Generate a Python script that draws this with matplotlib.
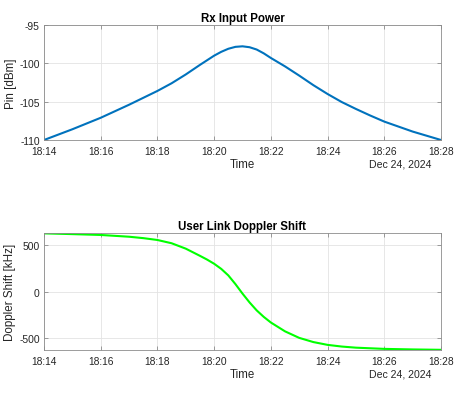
import matplotlib
matplotlib.use("Agg")
import matplotlib.pyplot as plt
import matplotlib.dates as mdates
import pandas as pd

plt.rcParams['font.family'] = ['Liberation Sans', 'DejaVu Sans']
plt.rcParams['axes.unicode_minus'] = False

# readings (time of day on Dec 24, 2024)
pin_times = ["18:14:00", "18:15:00", "18:16:00", "18:17:00", "18:18:00", "18:18:30",
             "18:19:00", "18:19:30", "18:20:00", "18:20:15", "18:20:30", "18:20:45",
             "18:21:00", "18:21:15", "18:21:30", "18:21:45", "18:22:00", "18:22:30",
             "18:23:00", "18:23:30", "18:24:00", "18:24:30", "18:25:00", "18:25:30",
             "18:26:00", "18:27:00", "18:28:00"]
pin_dbm = [-110.0, -108.6, -107.1, -105.4, -103.6, -102.6,
           -101.45, -100.2, -99.0, -98.5, -98.1, -97.85,
           -97.78, -97.9, -98.2, -98.7, -99.3, -100.4,
           -101.6, -102.85, -104.0, -105.05, -105.95, -106.8,
           -107.6, -108.9, -110.0]

dop_times = ["18:14:00", "18:15:00", "18:16:00", "18:17:00", "18:17:30", "18:18:00",
             "18:18:30", "18:19:00", "18:19:30", "18:19:45", "18:20:00", "18:20:15",
             "18:20:30", "18:20:45", "18:21:00", "18:21:15", "18:21:30", "18:21:45",
             "18:22:00", "18:22:30", "18:23:00", "18:23:30", "18:24:00", "18:24:30",
             "18:25:00", "18:26:00", "18:27:00", "18:28:00"]
dop_khz = [626, 618, 609, 590, 575, 555,
           520, 462, 385, 345, 300, 245,
           175, 82, -20, -115, -200, -270,
           -330, -425, -495, -540, -570, -588,
           -600, -613, -619, -623]

date = "2024-12-24 "
t_pin = pd.to_datetime([date + s for s in pin_times])
t_dop = pd.to_datetime([date + s for s in dop_times])
t0 = pd.Timestamp(date + "18:14:00")
t1 = pd.Timestamp(date + "18:28:00")
ticks = pd.date_range(t0, t1, freq="2min")

fig = plt.figure(figsize=(4.58, 4.02), dpi=100)
ax1 = fig.add_axes([44/458, 1-141/402, 397/458, 115/402])
ax2 = fig.add_axes([44/458, 1-351/402, 397/458, 117/402])

def style(ax, title, ylabel):
    ax.set_xlim(t0, t1)
    ax.set_xticks(ticks)
    ax.xaxis.set_major_formatter(mdates.DateFormatter('%H:%M'))
    ax.grid(True, color='#e3e3e3', lw=0.6)
    ax.set_axisbelow(True)
    for sp in ax.spines.values():
        sp.set_color('#8c8c8c')
        sp.set_linewidth(0.6)
    ax.tick_params(direction='in', length=3, width=0.6, color='#8c8c8c',
                   labelsize=7.4, labelcolor='#262626', top=True, right=True)
    ax.tick_params(axis='x', pad=4)
    ax.tick_params(axis='y', pad=3)
    ax.set_title(title, fontsize=8.3, fontweight='bold', pad=3)
    ax.set_ylabel(ylabel, fontsize=8.4, color='#262626', labelpad=2)
    ax.set_xlabel('Time', fontsize=8.3, color='#262626', labelpad=2)
    ax.text(0.977, -0.205, 'Dec 24, 2024', transform=ax.transAxes, ha='right', va='center',
            fontsize=7.6, color='#262626')

ax1.plot(t_pin, pin_dbm, color='#0072BD', lw=1.5)
ax1.set_ylim(-110, -95)
ax1.set_yticks([-110, -105, -100, -95])
style(ax1, 'Rx Input Power', 'Pin [dBm]')

ax2.plot(t_dop, dop_khz, color='#00FF00', lw=1.5)
ax2.set_ylim(-625, 630)
ax2.set_yticks([-500, 0, 500])
style(ax2, 'User Link Doppler Shift', 'Doppler Shift [kHz]')

fig.savefig('out.png', dpi=100)
